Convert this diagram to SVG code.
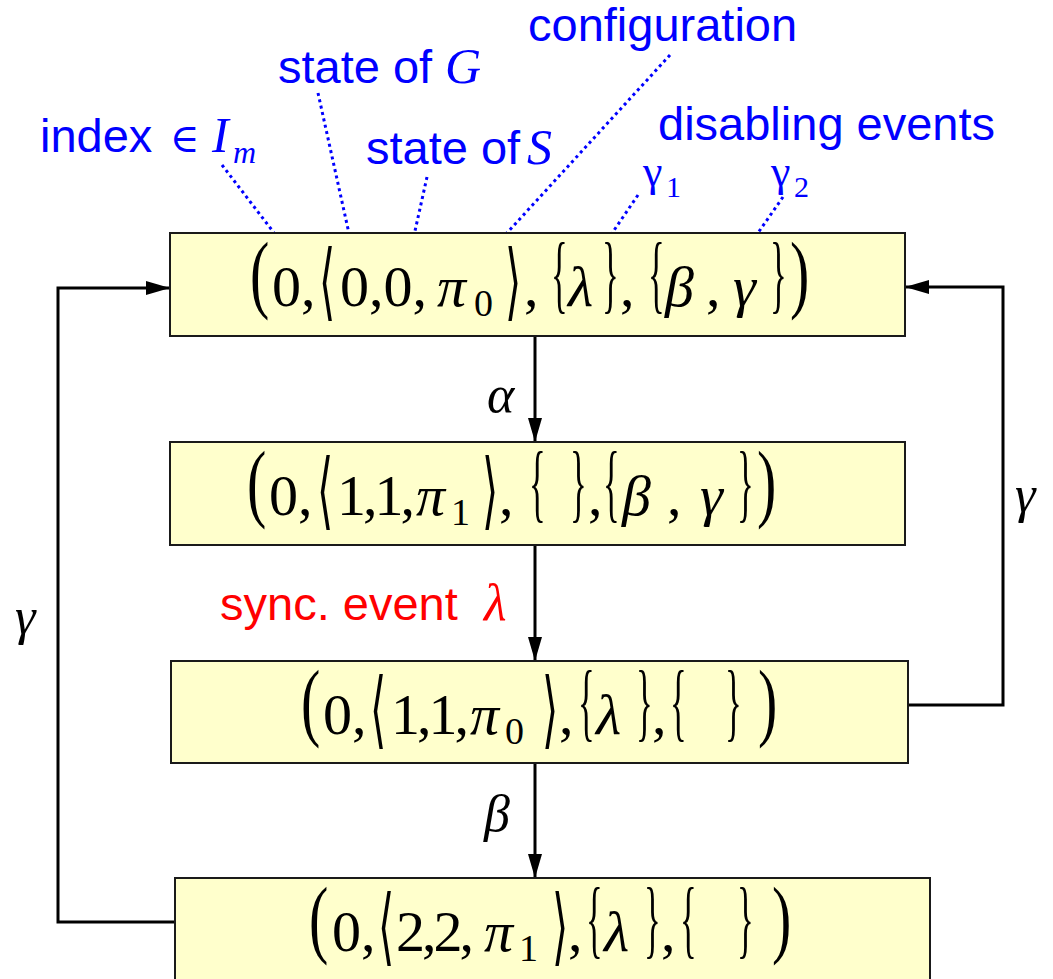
<svg xmlns="http://www.w3.org/2000/svg" width="1053" height="979" viewBox="0 0 1053 979">
  <defs>
    <marker id="arrow" markerUnits="userSpaceOnUse" markerWidth="24" markerHeight="14" refX="24" refY="7" orient="auto">
      <path d="M0,0 L24,7 L0,14 z" fill="#000"/>
    </marker>
    <style>
      .box { fill: #FFFFCC; stroke: #1a1a1a; stroke-width: 2; }
      .m { font-family: "Liberation Serif", "DejaVu Serif", serif; font-size: 58px; fill: #000; }
      .d { font-family: "Liberation Serif", "DejaVu Serif", serif; font-size: 58px; fill: #000; }
      .ang { font-family: "DejaVu Sans", "DejaVu Serif", sans-serif; font-size: 52px; fill: #000; font-weight: 200; }
      .it { font-style: italic; }
      .sub { font-size: 38px; }
      .tight { letter-spacing: -3px; }
      .lbl { font-family: "Liberation Sans", Arial, sans-serif; font-size: 47px; fill: #0000FF; }
      .lblm { font-family: "Liberation Serif", "DejaVu Serif", serif; fill: #0000FF; }
      .red { font-family: "Liberation Sans", Arial, sans-serif; font-size: 47px; fill: #FF0000; }
      .ev { font-family: "Liberation Serif", "DejaVu Serif", serif; font-style: italic; font-size: 52px; fill: #000; }
      .lead { fill: none; stroke: #0000FF; stroke-width: 3; stroke-dasharray: 3 3.5; }
      .conn { fill: none; stroke: #000; stroke-width: 3; }
    </style>
  </defs>

  <!-- annotation labels -->
  <g id="labels">
    <text class="lbl" x="40" y="152">index</text>
    <text class="lblm" x="170" y="152" font-size="40">∈</text>
    <text class="lblm it" x="212" y="152" font-size="50">I</text>
    <text class="lblm it" x="233" y="163" font-size="32">m</text>

    <text class="lbl" x="278" y="83">state of</text>
    <text class="lblm it" x="445" y="83" font-size="50">G</text>

    <text class="lbl" x="366" y="164">state of</text>
    <text class="lblm it" x="527" y="164" font-size="50">S</text>

    <text class="lbl" x="528" y="41">configuration</text>
    <text class="lbl" x="658" y="140">disabling events</text>

    <text class="lblm" x="643" y="186" font-size="44">γ</text>
    <text class="lblm" x="666" y="197" font-size="30">1</text>
    <text class="lblm" x="771" y="186" font-size="44">γ</text>
    <text class="lblm" x="794" y="197" font-size="30">2</text>
  </g>

  <!-- dotted leaders from labels into the first tuple -->
  <g id="leaders">
    <path class="lead" d="M222,165 L278,238"/>
    <path class="lead" d="M318,93 L350,238"/>
    <path class="lead" d="M427,177 L413,240"/>
    <path class="lead" d="M670,55 L484,258"/>
    <path class="lead" d="M638,195 L602,248"/>
    <path class="lead" d="M783,197 L744,253"/>
  </g>

  <!-- connectors -->
  <g id="connectors">
    <path class="conn" d="M535,336 L535,442" marker-end="url(#arrow)"/>
    <path class="conn" d="M535,545 L535,661" marker-end="url(#arrow)"/>
    <path class="conn" d="M535,763 L535,878" marker-end="url(#arrow)"/>
    <path class="conn" d="M175,922 L58,922 L58,288 L170,288" marker-end="url(#arrow)"/>
    <path class="conn" d="M908,705 L1003,705 L1003,287 L905,287" marker-end="url(#arrow)"/>
    <text class="ev" x="487" y="412">α</text>
    <text class="red" x="220" y="620">sync. event</text>
    <text class="ev" x="484" y="620" style="fill:#FF0000">λ</text>
    <text class="ev" x="484" y="831">β</text>
    <text class="ev" x="15" y="634">γ</text>
    <text class="ev" x="1015" y="512">γ</text>
  </g>

  <!-- state 1 -->
  <g id="s1">
    <rect class="box" x="170" y="233" width="735" height="103"/>
    <text class="d" transform="translate(250,302) scale(1,1.5)">(</text>
    <text class="ang" transform="translate(319,310) scale(0.8,1.62)">⟨</text>
    <text class="ang" transform="translate(505,310) scale(0.8,1.62)">⟩</text>
    <text class="d" transform="translate(551,302) scale(0.6,1.5)">{</text>
    <text class="d" transform="translate(602,302) scale(0.6,1.5)">}</text>
    <text class="d" transform="translate(648,302) scale(0.6,1.5)">{</text>
    <text class="d" transform="translate(770,302) scale(0.6,1.5)">}</text>
    <text class="d" transform="translate(790,302) scale(1,1.5)">)</text>
    <text class="m" y="306"><tspan x="272">0,</tspan><tspan x="340">0,0,</tspan><tspan class="it" x="437">π</tspan><tspan class="sub" x="474" y="316">0</tspan><tspan x="524" y="306">,</tspan><tspan class="it" x="568">λ</tspan><tspan x="620">,</tspan><tspan class="it" x="665">β</tspan><tspan x="706">,</tspan><tspan class="it" x="733">γ</tspan></text>
  </g>

  <!-- state 2 -->
  <g id="s2">
    <rect class="box" x="170" y="442" width="735" height="103"/>
    <text class="d" transform="translate(247,511) scale(1,1.5)">(</text>
    <text class="ang" transform="translate(317,519) scale(0.8,1.62)">⟨</text>
    <text class="ang" transform="translate(482,519) scale(0.8,1.62)">⟩</text>
    <text class="d" transform="translate(529,511) scale(0.6,1.5)">{</text>
    <text class="d" transform="translate(570,511) scale(0.6,1.5)">}</text>
    <text class="d" transform="translate(603,511) scale(0.6,1.5)">{</text>
    <text class="d" transform="translate(737,511) scale(0.6,1.5)">}</text>
    <text class="d" transform="translate(757,511) scale(1,1.5)">)</text>
    <text class="m" y="515"><tspan x="269">0,</tspan><tspan class="tight" x="337">1,1,</tspan><tspan class="it" x="416">π</tspan><tspan class="sub" x="451" y="525">1</tspan><tspan x="499" y="515">,</tspan><tspan x="588">,</tspan><tspan class="it" x="622">β</tspan><tspan x="667">,</tspan><tspan class="it" x="700">γ</tspan></text>
  </g>

  <!-- state 3 -->
  <g id="s3">
    <rect class="box" x="171" y="661" width="737" height="102"/>
    <text class="d" transform="translate(301,730) scale(1,1.5)">(</text>
    <text class="ang" transform="translate(370,738) scale(0.8,1.62)">⟨</text>
    <text class="ang" transform="translate(542,738) scale(0.8,1.62)">⟩</text>
    <text class="d" transform="translate(578,730) scale(0.6,1.5)">{</text>
    <text class="d" transform="translate(636,730) scale(0.6,1.5)">}</text>
    <text class="d" transform="translate(670,730) scale(0.6,1.5)">{</text>
    <text class="d" transform="translate(725,730) scale(0.6,1.5)">}</text>
    <text class="d" transform="translate(758,730) scale(1,1.5)">)</text>
    <text class="m" y="734"><tspan x="323">0,</tspan><tspan class="tight" x="391">1,1,</tspan><tspan class="it" x="470">π</tspan><tspan class="sub" x="505" y="744">0</tspan><tspan x="559" y="734">,</tspan><tspan class="it" x="596">λ</tspan><tspan x="652">,</tspan></text>
  </g>

  <!-- state 4 -->
  <g id="s4">
    <rect class="box" x="175" y="878" width="755" height="110"/>
    <text class="d" transform="translate(309,947) scale(1,1.5)">(</text>
    <text class="ang" transform="translate(378,955) scale(0.8,1.62)">⟨</text>
    <text class="ang" transform="translate(552,955) scale(0.8,1.62)">⟩</text>
    <text class="d" transform="translate(586,947) scale(0.6,1.5)">{</text>
    <text class="d" transform="translate(644,947) scale(0.6,1.5)">}</text>
    <text class="d" transform="translate(680,947) scale(0.6,1.5)">{</text>
    <text class="d" transform="translate(737,947) scale(0.6,1.5)">}</text>
    <text class="d" transform="translate(772,947) scale(1,1.5)">)</text>
    <text class="m" y="951"><tspan x="332">0,</tspan><tspan class="tight" x="396">2,2,</tspan><tspan class="it" x="484">π</tspan><tspan class="sub" x="519" y="961">1</tspan><tspan x="568" y="951">,</tspan><tspan class="it" x="604">λ</tspan><tspan x="661">,</tspan></text>
  </g>
</svg>
